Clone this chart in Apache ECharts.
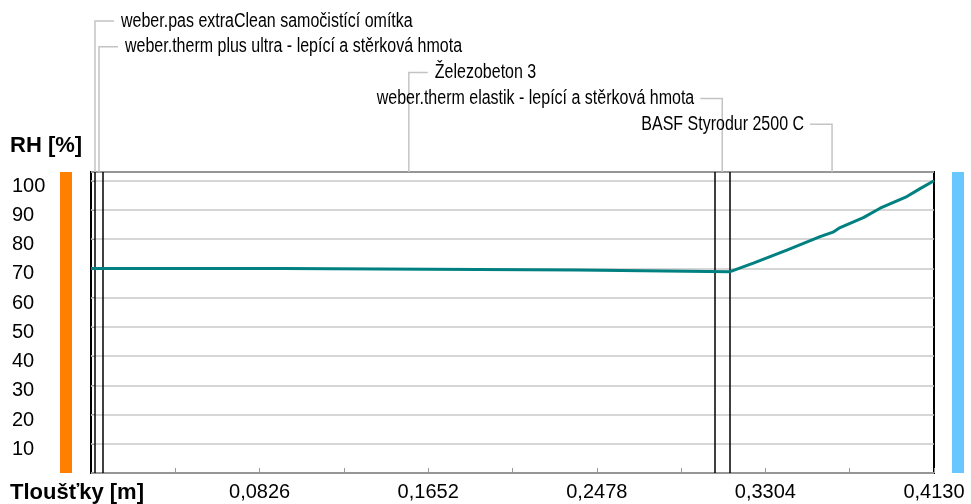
<!DOCTYPE html>
<html>
<head>
<meta charset="utf-8">
<script src="https://cdn.jsdelivr.net/npm/echarts@6/dist/echarts.min.js"></script>
<style>
  html, body { margin: 0; padding: 0; background: #fff; }
  #chart { width: 971px; height: 504px; }
</style>
</head>
<body>
<div id="chart"></div>
<script>
// Layers of the wall, from the interior face outwards
const layerNames = [
  'weber.pas extraClean samočistící omítka',
  'weber.therm plus ultra - lepící a stěrková hmota',
  'Železobeton 3',
  'weber.therm elastik - lepící a stěrková hmota',
  'BASF Styrodur 2500 C'
];
// Layer interfaces [m]
const layerBounds = [0, 0.0018, 0.006, 0.3054, 0.3131, 0.413];

// Relative humidity profile through the wall
const rhX = [0, 0.094, 0.094, 0.238, 0.238, 0.3131, 0.3245, 0.3409, 0.3572, 0.3635, 0.3670, 0.3784, 0.3866, 0.3997, 0.4062, 0.413];
const rhY = [70.0, 70.0, 69.5, 69.5, 68.9, 68.9, 71.8, 76.3, 80.9, 82.4, 84.0, 87.4, 90.6, 94.6, 97.3, 100.0];

// Axis ticks
const xTickStep = 0.0826;
const xTickLabels = ['0,0826', '0,1652', '0,2478', '0,3304', '0,4130'];
const yTickLabels = ['10', '20', '30', '40', '50', '60', '70', '80', '90', '100'];

const FONT = 'Liberation Sans';
const chart = echarts.init(document.getElementById('chart'), null, { renderer: 'canvas' });

const option = {
  animation: false,
  backgroundColor: '#fff',
  grid: {
    left: 91, right: 37, top: 172, bottom: 31,
    show: true, borderColor: '#000', borderWidth: 2, backgroundColor: 'transparent'
  },
  xAxis: {
    type: 'value', min: 0, max: 0.413, interval: 0.0413,
    axisLine: { show: false },
    axisTick: { show: true, inside: true, length: 5, lineStyle: { color: '#999', width: 1 } },
    splitLine: { show: false },
    axisLabel: {
      margin: 9, color: '#000', fontFamily: FONT, fontSize: 20,
      showMinLabel: false,
      formatter: function (v) {
        const k = Math.round(v / xTickStep);
        if (k >= 1 && Math.abs(v - k * xTickStep) < 1e-6) return xTickLabels[k - 1];
        return '';
      }
    }
  },
  yAxis: {
    type: 'value', min: 0, max: 103, interval: 10,
    axisLine: { show: false },
    axisTick: { show: true, inside: true, length: 4, lineStyle: { color: '#999' } },
    splitLine: { show: true, lineStyle: { color: '#c8c8c8', width: 1.5 } },
    axisLabel: {
      margin: 79, align: 'left', color: '#000', fontFamily: FONT, fontSize: 20,
      formatter: function (v) {
        const k = Math.round(v / 10);
        return k >= 1 ? '{v|' + yTickLabels[k - 1] + '}' : '';
      },
      rich: {
        v: { fontFamily: FONT, fontSize: 20, color: '#000', padding: [11, 0, 0, 0] }
      }
    }
  },
  series: [
    {
      type: 'line',
      data: rhX.map((x, i) => [x, rhY[i]]),
      showSymbol: false,
      lineStyle: { color: '#008080', width: 3 },
      z: 5,
      markLine: {
        silent: true,
        symbol: 'none',
        precision: 6,
        label: { show: false },
        lineStyle: { color: '#000', width: 1.5, type: 'solid' },
        data: layerBounds.slice(1, -1).map(b => ({ xAxis: b }))
      }
    }
  ]
};
chart.setOption(option);

// Layer names with leader lines, bars for the interior/exterior sides, axis titles
function drawDecorations() {
  const g = [];
  const top = chart.convertToPixel({ gridIndex: 0 }, [0, 103])[1];
  const bottom = chart.convertToPixel({ gridIndex: 0 }, [0, 0])[1];
  const left = chart.convertToPixel({ gridIndex: 0 }, [0, 0])[0];
  const right = chart.convertToPixel({ gridIndex: 0 }, [0.413, 0])[0];

  let prevX = left;
  layerNames.forEach((name, i) => {
    const c = (layerBounds[i] + layerBounds[i + 1]) / 2;
    let lx = chart.convertToPixel({ gridIndex: 0 }, [c, 0])[0];
    lx = Math.max(lx, prevX + 4);
    prevX = lx;
    const ly = 21 + i * 25.8;
    const toRight = i < 3;
    const hx = toRight ? lx + 19 : lx - 22;
    g.push({
      type: 'polyline', silent: true,
      shape: { points: [[lx, top], [lx, ly], [hx, ly]] },
      style: { stroke: '#c4c4c4', lineWidth: 1.5, fill: null }
    });
    g.push({
      type: 'text', silent: true,
      x: toRight ? hx + 7 : hx - 6, y: ly, scaleY: 1.25,
      style: {
        text: name, fill: '#000', font: '16px "' + FONT + '"',
        align: toRight ? 'left' : 'right', verticalAlign: 'middle'
      }
    });
  });

  g.push({
    type: 'rect', silent: true,
    shape: { x: 60, y: top, width: 12, height: bottom - top },
    style: { fill: '#ff8000' }
  });
  g.push({
    type: 'rect', silent: true,
    shape: { x: right + 18, y: top, width: 12, height: bottom - top },
    style: { fill: '#66c8ff' }
  });
  g.push({
    type: 'text', silent: true, x: 10, y: 146,
    style: { text: 'RH [%]', fill: '#000', font: 'bold 22px "' + FONT + '"', verticalAlign: 'middle' }
  });
  g.push({
    type: 'text', silent: true, x: 10, y: 493,
    style: { text: 'Tloušťky [m]', fill: '#000', font: 'bold 22px "' + FONT + '"', verticalAlign: 'middle' }
  });
  chart.setOption({ graphic: { elements: g } });
}
drawDecorations();
</script>
</body>
</html>
